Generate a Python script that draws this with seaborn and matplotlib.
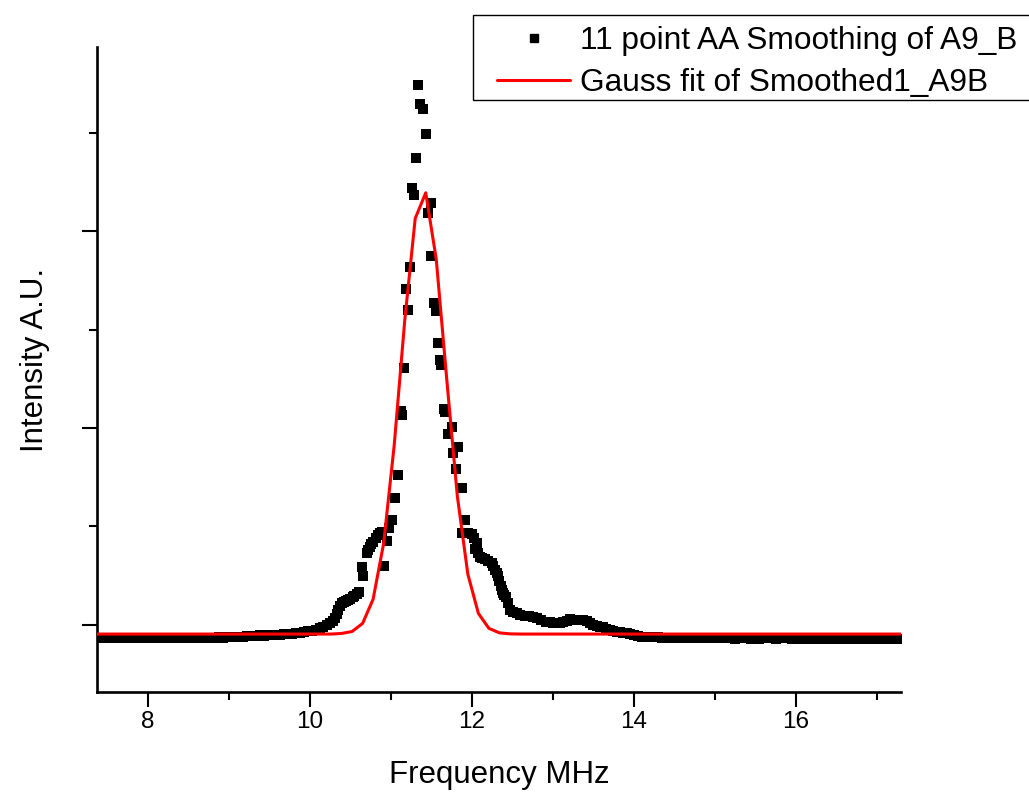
import numpy as np
import matplotlib
matplotlib.use('Agg')
import matplotlib.pyplot as plt
import seaborn as sns
from matplotlib.ticker import NullFormatter, FixedLocator
from matplotlib.lines import Line2D
from matplotlib.patches import Rectangle

# ---------------- data ----------------
# flat left tail (evenly spaced samples 7.37 .. 10.08 MHz)
left_tail_y = [-0.066, -0.067, -0.065, -0.066, -0.068, -0.066, -0.065, -0.067, -0.066, -0.066,
               -0.067, -0.065, -0.066, -0.064, -0.066, -0.067, -0.066, -0.065, -0.066, -0.066,
               -0.064, -0.065, -0.066, -0.065, -0.064, -0.066, -0.065, -0.064, -0.065, -0.064,
               -0.063, -0.064, -0.063, -0.062, -0.063, -0.061, -0.060,
               -0.058, -0.056, -0.055, -0.053, -0.054, -0.052, -0.050, -0.049, -0.050,
               -0.048, -0.046, -0.044, -0.042, -0.040, -0.037, -0.033, -0.029, -0.024]

# peak region (explicit frequency / intensity pairs)
mid_x = [10.12, 10.16, 10.21, 10.25, 10.28, 10.31, 10.33, 10.35, 10.37, 10.39,
         10.42, 10.45, 10.47, 10.50, 10.53, 10.55, 10.58, 10.61, 10.64, 10.66,
         10.70, 10.72, 10.74, 10.76, 10.78, 10.81, 10.84, 10.86, 10.885, 10.917,
         10.947, 10.979, 11.009, 11.049, 11.083, 11.12, 11.136, 11.164, 11.185, 11.214,
         11.235, 11.256, 11.284, 11.309, 11.337, 11.358, 11.399, 11.432, 11.46, 11.49,
         11.494, 11.531, 11.556, 11.577, 11.605, 11.621, 11.654, 11.67, 11.704, 11.753,
         11.769, 11.802, 11.827, 11.873, 11.873, 11.914, 11.95, 11.996, 12.02, 12.037,
         12.058, 12.08, 12.099, 12.13, 12.16, 12.20, 12.243, 12.26, 12.284, 12.305,
         12.325, 12.34, 12.354, 12.37, 12.386, 12.40, 12.42, 12.445, 12.469, 12.51,
         12.552, 12.60, 12.654, 12.70, 12.757, 12.80, 12.85, 12.92, 12.96, 13.00,
         13.04, 13.086, 13.13, 13.17, 13.21, 13.25, 13.29, 13.333, 13.37, 13.416,
         13.46, 13.498, 13.54, 13.58, 13.62, 13.66, 13.70, 13.744, 13.79, 13.83,
         13.87, 13.91, 13.95, 14.00]
mid_y = [-0.017, -0.010, 0.000, 0.008, 0.020, 0.034, 0.055, 0.076, 0.095, 0.110,
         0.115, 0.121, 0.127, 0.134, 0.141, 0.147, 0.157, 0.169, 0.296, 0.249,
         0.364, 0.381, 0.397, 0.410, 0.423, 0.440, 0.455, 0.466, 0.474, 0.301,
         0.428, 0.491, 0.533, 0.646, 0.760, 1.088, 1.068, 1.306, 1.704, 1.599,
         1.816, 2.217, 2.183, 2.372, 2.743, 2.643, 2.618, 2.494, 2.093, 2.144,
         1.875, 1.633, 1.594, 1.433, 1.345, 1.320, 1.098, 1.083, 0.968, 1.005,
         0.875, 0.790, 0.902, 0.697, 0.465, 0.533, 0.468, 0.462, 0.440, 0.384,
         0.415, 0.365, 0.347, 0.340, 0.334, 0.325, 0.316, 0.300, 0.279, 0.265,
         0.250, 0.225, 0.199, 0.180, 0.161, 0.152, 0.144, 0.110, 0.076, 0.068,
         0.059, 0.053, 0.046, 0.045, 0.042, 0.035, 0.025, 0.017, 0.013, 0.011,
         0.010, 0.009, 0.015, 0.022, 0.029, 0.027, 0.026, 0.025, 0.024, 0.022,
         0.010, 0.000, -0.005, -0.009, -0.012, -0.018, -0.024, -0.029, -0.034, -0.038,
         -0.040, -0.042, -0.046, -0.050]

# flat right tail (evenly spaced samples 14.05 .. 17.30 MHz)
right_tail_y = [-0.057, -0.059, -0.060, -0.062, -0.063, -0.063, -0.064, -0.065, -0.066, -0.065,
                -0.066, -0.067, -0.066, -0.067, -0.066, -0.068, -0.067, -0.066, -0.067, -0.068,
                -0.067, -0.066, -0.067, -0.068, -0.069, -0.068, -0.067, -0.068, -0.069, -0.070,
                -0.069, -0.068, -0.067, -0.068, -0.069, -0.068, -0.067, -0.068, -0.069, -0.068,
                -0.069, -0.070, -0.069, -0.068, -0.069, -0.070, -0.071, -0.070, -0.069, -0.070,
                -0.069, -0.070, -0.071, -0.070, -0.069, -0.070, -0.071, -0.070, -0.069, -0.070,
                -0.071, -0.070, -0.071, -0.070, -0.070, -0.071]

# Gauss fit curve samples
fit_x = [7.37, 10.00, 10.13, 10.26, 10.39, 10.52, 10.65, 10.78, 10.91, 11.04, 11.17,
         11.30, 11.43, 11.56, 11.69, 11.82, 11.95, 12.08, 12.21, 12.34, 12.47, 12.60, 17.30]
fit_y = [-0.046, -0.046, -0.046, -0.046, -0.043, -0.033, 0.008, 0.131, 0.414, 0.910, 1.543,
         2.064, 2.194, 1.856, 1.245, 0.655, 0.258, 0.059, -0.017, -0.040, -0.045, -0.046, -0.046]

x_major = [8, 10, 12, 14, 16]
x_minor = [9, 11, 13, 15, 17]
y_major = [0, 1, 2]
y_minor = [0.5, 1.5, 2.5]

label_data = "11 point AA Smoothing of A9_B"
label_fit = "Gauss fit of Smoothed1_A9B"

# ---------------- plotting ----------------
sns.set_style("ticks")
plt.rcParams['font.family'] = ['Liberation Sans', 'DejaVu Sans']
plt.rcParams['text.color'] = 'black'
plt.rcParams['axes.labelcolor'] = 'black'
plt.rcParams['xtick.color'] = 'black'
plt.rcParams['ytick.color'] = 'black'

left_tail_x = np.linspace(7.37, 10.08, len(left_tail_y))
right_tail_x = np.linspace(14.05, 17.30, len(right_tail_y))
data_x = np.concatenate([left_tail_x, mid_x, right_tail_x])
data_y = np.concatenate([left_tail_y, mid_y, right_tail_y])

W, H = 1029, 793
fig = plt.figure(figsize=(W / 100, H / 100), dpi=100)
ax = fig.add_axes([0.0943, 0.1274, 0.7813, 0.8133])

sns.scatterplot(x=data_x, y=data_y, marker='s', s=52, color='black', linewidth=0,
                ax=ax, zorder=2, legend=False)
sns.lineplot(x=fit_x, y=fit_y, color='red', linewidth=2.2, ax=ax, sort=False,
             estimator=None, zorder=3, legend=False)

ax.set_xlim(7.37, 17.30)
ax.set_ylim(-0.34, 2.934)

ax.xaxis.set_major_locator(FixedLocator(x_major))
ax.xaxis.set_minor_locator(FixedLocator(x_minor))
ax.yaxis.set_major_locator(FixedLocator(y_major))
ax.yaxis.set_minor_locator(FixedLocator(y_minor))
ax.yaxis.set_major_formatter(NullFormatter())
ax.set_xticklabels([str(v) for v in x_major])

ax.tick_params(axis='both', which='major', direction='out', length=11, width=1.5,
               labelsize=17.5, pad=3, color='black', labelcolor='black')
ax.tick_params(axis='both', which='minor', direction='out', length=5.5, width=1.5, color='black')

for s in ['top', 'right']:
    ax.spines[s].set_visible(False)
for s in ['left', 'bottom']:
    ax.spines[s].set_linewidth(1.9)
    ax.spines[s].set_color('black')

ax.set_xlabel("Frequency MHz", fontsize=22.5, labelpad=19, color='black')
ax.set_ylabel("Intensity A.U.", fontsize=22.5, labelpad=20, color='black')
ax.yaxis.label.set_y(0.515)

# legend frame drawn separately (it runs off the right edge in the reference)
fig.patches.append(Rectangle((473 / W, 1 - 100 / H), (1060 - 473) / W, 85 / H,
                             transform=fig.transFigure, fill=False, edgecolor='black',
                             linewidth=1.0, clip_on=False, zorder=5))

handles = [Line2D([], [], marker='s', linestyle='none', color='black', markersize=6),
           Line2D([], [], color='red', linewidth=2.2)]
leg = fig.legend(handles=handles, labels=[label_data, label_fit], loc='upper left',
                 bbox_to_anchor=(491 / W, 1 - 19.5 / H), frameon=False,
                 fontsize=22.8, handlelength=2.3, handletextpad=0.3, borderpad=0.2,
                 labelspacing=0.38, borderaxespad=0)
for t in leg.get_texts():
    t.set_color('black')

fig.savefig('out.png', dpi=100)
